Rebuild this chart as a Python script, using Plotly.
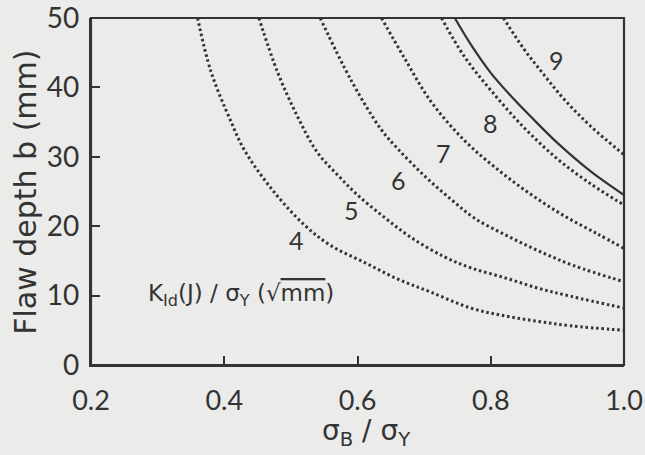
import plotly.graph_objects as go

# K_Id(J)/sigma_Y curves (dotted)
k4_x = [0.36, 0.38, 0.41, 0.43, 0.47, 0.52, 0.56, 0.61, 0.66, 0.71, 0.77, 0.82, 0.87, 0.92, 1.0]
k4_y = [50, 42.3, 35.1, 31.0, 25.5, 20.2, 17.2, 14.8, 12.4, 10.5, 8.2, 7.1, 6.3, 5.65, 5.0]

k5_x = [0.452, 0.48, 0.51, 0.54, 0.57, 0.60, 0.64, 0.68, 0.73, 0.77, 0.82, 0.87, 0.92, 1.0]
k5_y = [50, 42.2, 35.8, 30.6, 27.4, 24.5, 21.3, 18.4, 15.6, 14.0, 12.6, 11.1, 9.9, 8.2]

k6_x = [0.544, 0.59, 0.635, 0.66, 0.70, 0.74, 0.775, 0.825, 0.875, 0.925, 1.0]
k6_y = [50, 41.1, 34.0, 31.2, 27.3, 23.9, 21.2, 18.6, 16.3, 14.3, 12.0]

k7_x = [0.636, 0.67, 0.71, 0.76, 0.81, 0.86, 0.91, 0.96, 1.0]
k7_y = [50, 44.3, 38.0, 32.4, 28.2, 24.6, 21.5, 18.9, 16.8]

k8_x = [0.726, 0.76, 0.80, 0.85, 0.90, 0.95, 1.0]
k8_y = [50, 44.5, 39.6, 34.2, 29.7, 26.1, 23.05]

k9_x = [0.819, 0.85, 0.88, 0.91, 0.95, 1.0]
k9_y = [50, 45.5, 41.8, 38.3, 34.4, 30.3]

# solid limit curve
solid_x = [0.746, 0.77, 0.80, 0.83, 0.86, 0.90, 0.95, 1.0]
solid_y = [50, 46.2, 42.1, 38.8, 35.8, 32.0, 27.9, 24.5]

curve_labels = ["4", "5", "6", "7", "8", "9"]
label_x = [0.509, 0.591, 0.661, 0.729, 0.799, 0.899]
label_y = [18.0, 22.3, 26.7, 30.5, 34.8, 43.9]

x_ticks = [0.2, 0.4, 0.6, 0.8, 1.0]
x_ticktext = ["0.2", "0.4", "0.6", "0.8", "1.0"]
y_ticks = [0, 10, 20, 30, 40, 50]
y_ticktext = ["0", "10", "20", "30", "40", "50"]

INK = "#333333"
BG = "#ebebea"
FONT = "Lato"
WIDE = "DejaVu Sans"

fig = go.Figure()
for xs, ys in [(k4_x, k4_y), (k5_x, k5_y), (k6_x, k6_y), (k7_x, k7_y), (k8_x, k8_y), (k9_x, k9_y)]:
    fig.add_trace(go.Scatter(x=xs, y=ys, mode="lines", line_shape="spline",
                             line=dict(color=INK, width=3, dash="2.5px,2.8px"),
                             showlegend=False, hoverinfo="skip", cliponaxis=False))
fig.add_trace(go.Scatter(x=solid_x, y=solid_y, mode="lines", line_shape="spline",
                         line=dict(color=INK, width=2.2), showlegend=False, hoverinfo="skip"))

for t, lx, ly in zip(curve_labels, label_x, label_y):
    fig.add_annotation(x=lx, y=ly, text=t, showarrow=False,
                       font=dict(family=FONT, size=25, color=INK))

fig.add_annotation(x=0.425, y=10.1, showarrow=False,
                   text="K<sub>Id</sub>(J) / σ<sub>Y</sub> (√<span style='text-decoration:overline'>mm</span>)",
                   font=dict(family=WIDE, size=23, color=INK))

fig.add_annotation(xref="paper", yref="paper", x=0.516, y=-0.195, showarrow=False,
                   xanchor="center", yanchor="middle",
                   text="σ<sub>B</sub> / σ<sub>Y</sub>",
                   font=dict(family=WIDE, size=28, color=INK))
fig.add_annotation(xref="paper", yref="paper", x=-0.122, y=0.499, showarrow=False,
                   xanchor="center", yanchor="middle",
                   textangle=-90, text="Flaw depth b (mm)",
                   font=dict(family=WIDE, size=30, color=INK))

# plot frame
fig.add_shape(type="rect", xref="paper", yref="paper", x0=0, y0=0, x1=1, y1=1,
              line=dict(color=INK, width=2.2), layer="above")

fig.update_xaxes(range=[0.2, 1.0], tickvals=x_ticks, ticktext=x_ticktext, automargin=False,
                 showgrid=False, zeroline=False, showline=True, linecolor=INK, linewidth=2.2,
                 ticks="inside", ticklen=9, tickwidth=2, tickcolor=INK, ticklabeloverflow="allow",
                 ticklabelstandoff=10, tickfont=dict(family=FONT, size=27, color=INK))
fig.update_yaxes(range=[0, 50], tickvals=y_ticks, ticktext=y_ticktext, automargin=False,
                 showgrid=False, zeroline=False, showline=True, linecolor=INK, linewidth=2.2,
                 ticks="inside", ticklen=9, tickwidth=2, tickcolor=INK, ticklabeloverflow="allow",
                 ticklabelstandoff=4, tickfont=dict(family=FONT, size=28, color=INK))

fig.update_layout(width=645, height=455, margin=dict(l=91, r=21, t=18, b=90),
                  paper_bgcolor=BG, plot_bgcolor=BG, showlegend=False)

fig.write_html("out.html")
